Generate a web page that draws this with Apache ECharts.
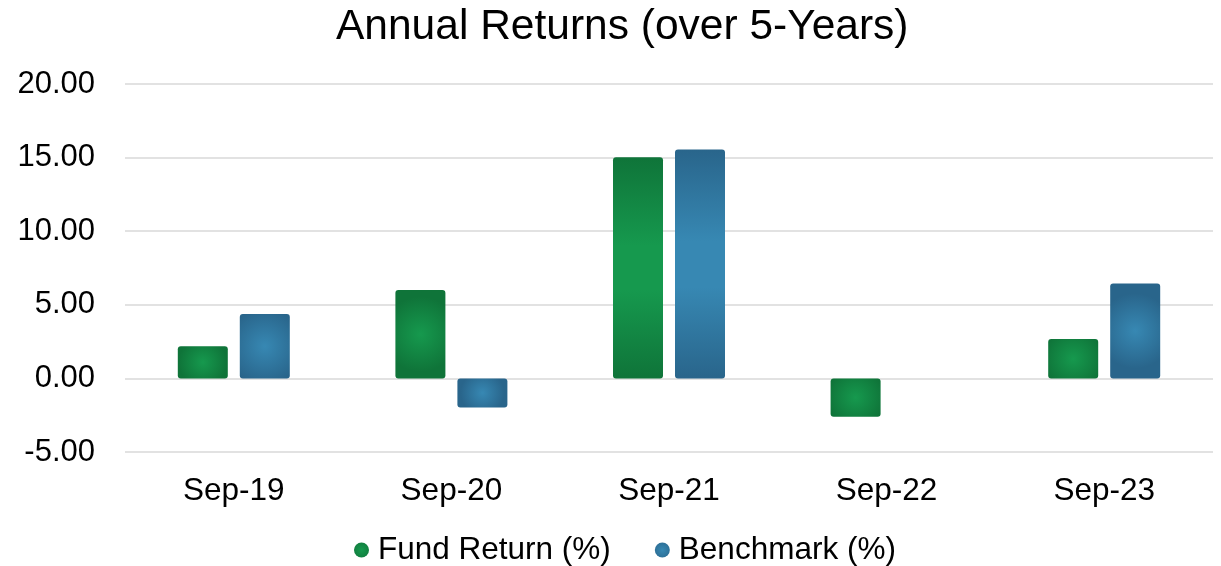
<!DOCTYPE html>
<html>
<head>
<meta charset="utf-8">
<script src="https://cdn.jsdelivr.net/npm/echarts@6/dist/echarts.min.js"></script>
<style>
html,body{margin:0;padding:0;background:#fff;}
#chart{width:1221px;height:566px;}
</style>
</head>
<body>
<div id="chart"></div>
<script>
const categories = ['Sep-19', 'Sep-20', 'Sep-21', 'Sep-22', 'Sep-23'];
const fundReturn = [2.19, 6.00, 15.03, -2.60, 2.67];
const benchmark = [4.37, -1.97, 15.55, null, 6.45];
const seriesNames = ['Fund Return (%)', 'Benchmark (%)'];

const FONT = 'Liberation Sans, Arial, sans-serif';

function radial(inner, outer) {
  return {
    type: 'radial', x: 0.5, y: 0.5, r: 0.75,
    colorStops: [
      { offset: 0, color: inner },
      { offset: 1, color: outer }
    ]
  };
}
function vertical(inner, outer) {
  return {
    type: 'linear', x: 0, y: 0, x2: 0, y2: 1,
    colorStops: [
      { offset: 0, color: outer },
      { offset: 0.4, color: inner },
      { offset: 0.6, color: inner },
      { offset: 1, color: outer }
    ]
  };
}
const GREEN = ['#16994e', '#0f7439'];
const BLUE = ['#3788b3', '#29658b'];
function barColor(pair) {
  return function (p) {
    const v = Math.abs(p.value || 0);
    return v > 10 ? vertical(pair[0], pair[1]) : radial(pair[0], pair[1]);
  };
}

const chart = echarts.init(document.getElementById('chart'));
chart.setOption({
  animation: false,
  backgroundColor: '#ffffff',
  title: {
    text: 'Annual Returns (over 5-Years)',
    left: 331,
    top: 1,
    textStyle: { fontFamily: FONT, fontSize: 42.5, fontWeight: 'normal', color: '#000' }
  },
  legend: {
    bottom: -5,
    left: 349,
    itemWidth: 15,
    itemHeight: 15,
    itemGap: 44,
    icon: 'circle',
    textStyle: { fontFamily: FONT, fontSize: 31.5, color: '#000', padding: [0, 0, 0, 4] },
    data: [
      { name: seriesNames[0], itemStyle: { color: radial(GREEN[0], GREEN[1]) } },
      { name: seriesNames[1], itemStyle: { color: radial(BLUE[0], BLUE[1]) } }
    ]
  },
  grid: { left: 125, right: 8, top: 84, bottom: 114 },
  xAxis: {
    type: 'category',
    data: categories,
    axisLine: { show: false },
    axisTick: { show: false },
    axisLabel: { fontFamily: FONT, fontSize: 31.5, color: '#000', margin: 23 }
  },
  yAxis: {
    type: 'value',
    min: -5, max: 20, interval: 5,
    axisLine: { show: false },
    axisTick: { show: false },
    splitLine: { lineStyle: { color: '#d9d9d9', width: 1.5 } },
    axisLabel: {
      fontFamily: FONT, fontSize: 31, color: '#000', margin: 30,
      formatter: v => v.toFixed(2)
    }
  },
  series: [
    {
      name: seriesNames[0], type: 'bar', data: fundReturn,
      barWidth: 50, barGap: '24%',
      itemStyle: { color: barColor(GREEN), borderRadius: 3 }
    },
    {
      name: seriesNames[1], type: 'bar', data: benchmark,
      barWidth: 50,
      itemStyle: { color: barColor(BLUE), borderRadius: 3 }
    }
  ]
});
</script>
</body>
</html>
